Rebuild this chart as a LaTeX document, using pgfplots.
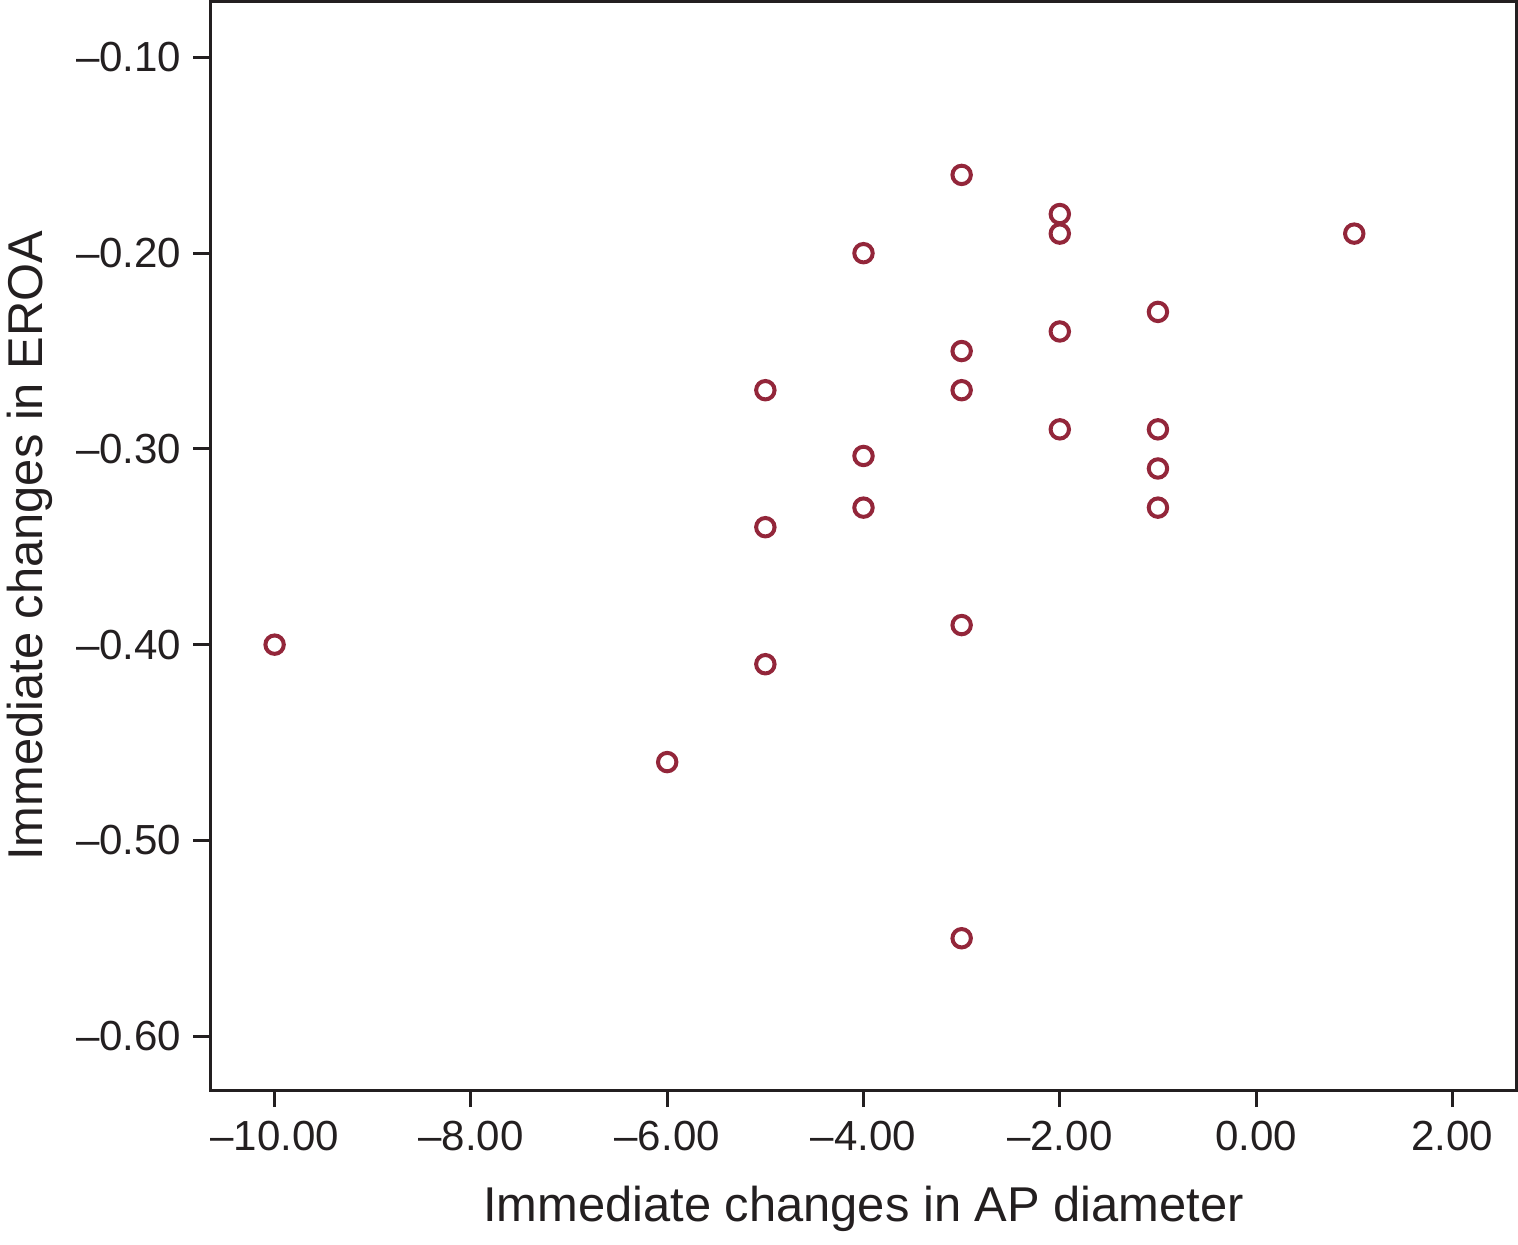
\documentclass[border=0pt]{standalone}
\usepackage{fontspec}
\setmainfont{Liberation Sans}
\usepackage{pgfplots}
\pgfplotsset{compat=1.18}
\definecolor{axcol}{HTML}{231F20}
\definecolor{mk}{HTML}{93263A}
\begin{document}
\begin{tikzpicture}
\begin{axis}[
  width=326pt, height=271.75pt, scale only axis,
  xmin=-10.653, xmax=2.653, ymin=-0.6276, ymax=-0.0714,
  axis line style={axcol, line width=0.75pt},
  xtick={-10,-8,-6,-4,-2,0,2},
  xticklabels={\textendash10.00,\textendash8.00,\textendash6.00,\textendash4.00,\textendash2.00,0.00,2.00},
  ytick={-0.6,-0.5,-0.4,-0.3,-0.2,-0.1},
  yticklabels={\textendash0.60,\textendash0.50,\textendash0.40,\textendash0.30,\textendash0.20,\textendash0.10},
  tick align=outside, xtick pos=bottom, ytick pos=left,
  major tick length=4.25pt,
  tick style={axcol, line width=0.75pt},
  tick label style={font=\fontsize{10.5}{12}\selectfont, text=axcol},
  yticklabel style={xshift=0.5pt},
  label style={font=\fontsize{12.2}{14}\selectfont, text=axcol},
  xlabel style={yshift=-1.8pt},
  ylabel style={at={(axis description cs:-0.1618,0.5)}, anchor=north, inner sep=1.75pt},
  xlabel={Immediate changes in AP diameter},
  ylabel={Immediate changes in EROA},
]
\addplot[only marks, mark=o, mark size=2.3pt, mark options={line width=1pt, draw=mk}] coordinates {
(-10,-0.40)
(-6,-0.46)
(-5,-0.27) (-5,-0.34) (-5,-0.41)
(-4,-0.20) (-4,-0.3036) (-4,-0.33)
(-3,-0.16) (-3,-0.25) (-3,-0.27) (-3,-0.39) (-3,-0.55)
(-2,-0.18) (-2,-0.19) (-2,-0.24) (-2,-0.29)
(-1,-0.23) (-1,-0.29) (-1,-0.31) (-1,-0.33)
(1,-0.19)
};
\end{axis}
\end{tikzpicture}
\end{document}
